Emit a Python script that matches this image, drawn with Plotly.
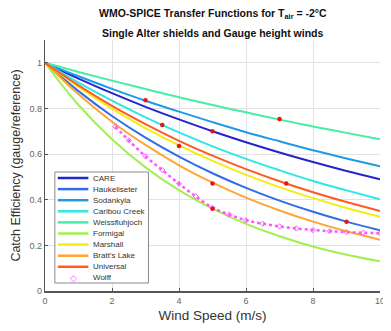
import plotly.graph_objects as go

# ---------------- data ----------------
wind = [0, 1, 2, 3, 4, 5, 6, 7, 8, 9, 10]
care = [1.0, 0.931, 0.867, 0.807, 0.752, 0.700, 0.652, 0.607, 0.565, 0.526, 0.490]
haukeliseter = [1.0, 0.876, 0.767, 0.672, 0.589, 0.516, 0.452, 0.396, 0.347, 0.304, 0.266]
sodankyla = [1.0, 0.941, 0.886, 0.834, 0.786, 0.740, 0.696, 0.656, 0.617, 0.581, 0.547]
caribou_creek = [1.0, 0.913, 0.834, 0.761, 0.695, 0.634, 0.579, 0.529, 0.482, 0.441, 0.402]
weissfluhjoch = [1.0, 0.960, 0.922, 0.885, 0.849, 0.815, 0.783, 0.751, 0.721, 0.693, 0.665]
formigal = [1.0, 0.815, 0.665, 0.542, 0.442, 0.361, 0.294, 0.240, 0.195, 0.159, 0.130]
marshall = [1.0, 0.894, 0.799, 0.714, 0.638, 0.570, 0.509, 0.455, 0.407, 0.364, 0.325]
bratts_lake = [1.0, 0.862, 0.742, 0.640, 0.551, 0.475, 0.409, 0.353, 0.304, 0.262, 0.225]
universal = [1.0, 0.901, 0.811, 0.731, 0.658, 0.593, 0.534, 0.481, 0.433, 0.390, 0.351]

wolff_wind = [2.1, 2.5, 3.0, 3.5, 4.0, 4.5, 5.0, 5.5, 6.0, 6.5, 7.0, 7.5, 8.0, 8.5, 9.0, 9.5, 10.0]
wolff = [0.72, 0.66, 0.59, 0.53, 0.47, 0.415, 0.365, 0.335, 0.31, 0.295, 0.283,
         0.274, 0.267, 0.262, 0.258, 0.255, 0.253]

obs_wind = [3.0, 3.5, 4.0, 5.0, 5.0, 5.0, 7.0, 7.2, 9.0]
obs_ce = [0.836, 0.728, 0.635, 0.70, 0.471, 0.36, 0.754, 0.471, 0.303]

names = ["CARE", "Haukeliseter", "Sodankyla", "Caribou Creek", "Weissfluhjoch",
         "Formigal", "Marshall", "Bratt's Lake", "Universal"]
values = [care, haukeliseter, sodankyla, caribou_creek, weissfluhjoch,
          formigal, marshall, bratts_lake, universal]
colors = ["#2424cc", "#2f6ee6", "#1f9ae6", "#2ee6e6", "#45eda5",
          "#a2ef52", "#f4ee10", "#ffa533", "#ff5a22"]
wolff_color = "#ff55ff"

fig = go.Figure()
for name, vals, col in zip(names, values, colors):
    fig.add_trace(go.Scatter(x=wind, y=vals, name=name, mode="lines",
                             line=dict(color=col, width=2, shape="spline"),
                             showlegend=False))
fig.add_trace(go.Scatter(x=wolff_wind, y=wolff, name="Wolff", mode="lines+markers",
                         line=dict(color=wolff_color, width=2.5, dash="dot", shape="spline"),
                         marker=dict(symbol="diamond-open", size=4, color=wolff_color),
                         showlegend=False))
fig.add_trace(go.Scatter(x=obs_wind, y=obs_ce, mode="markers", name="obs",
                         marker=dict(color="#ee1111", size=4.5), showlegend=False))

# ---------------- geometry (page has an 8px body margin) ----------------
OFF = 8
FW, FH = 391 - OFF, 331 - OFF
L, R, T, B = 45 - OFF, 385 - OFF, 40 - OFF, 291 - OFF
W, H = R - L, B - T
def px(xp):
    return (xp - OFF - L) / W
def py(yp):
    return (B - (yp - OFF)) / H

shapes = [dict(type="rect", xref="paper", yref="paper",
               x0=px(55), x1=px(150), y0=py(283), y1=py(172),
               line=dict(color="#8a8a8a", width=1), fillcolor="white", layer="above")]
annotations = []
legend_names = names + ["Wolff"]
for i, nm in enumerate(legend_names):
    yy = 178 + i * 11.1
    if nm != "Wolff":
        shapes.append(dict(type="line", xref="paper", yref="paper",
                           x0=px(58), x1=px(89), y0=py(yy), y1=py(yy),
                           line=dict(color=colors[i], width=2.5), layer="above"))
    else:
        annotations.append(dict(x=px(73.5), y=py(yy), xref="paper", yref="paper",
                                text="◇", showarrow=False, xanchor="center", yanchor="middle",
                                font=dict(size=9, color=wolff_color)))
    annotations.append(dict(x=px(92), y=py(yy), xref="paper", yref="paper", text=nm,
                            showarrow=False, xanchor="left", yanchor="middle",
                            font=dict(size=8, color="#333333", family="Liberation Sans, Arial")))

annotations.append(dict(x=px(215), y=py(14), xref="paper", yref="paper",
                        text="<b>WMO-SPICE Transfer Functions for T<sub>air</sub> = -2°C</b>",
                        showarrow=False, xanchor="center", yanchor="middle",
                        font=dict(size=10.5, color="#111111", family="Liberation Sans, Arial")))
annotations.append(dict(x=px(215), y=py(33), xref="paper", yref="paper",
                        text="<b>Single Alter shields and Gauge height winds</b>",
                        showarrow=False, xanchor="center", yanchor="middle",
                        font=dict(size=10.5, color="#111111", family="Liberation Sans, Arial")))

fig.update_layout(
    width=FW, height=FH,
    margin=dict(l=L, r=FW - R, t=T, b=FH - B),
    paper_bgcolor="white", plot_bgcolor="white",
    font=dict(family="Liberation Sans, Arial", color="#555555"),
    shapes=shapes, annotations=annotations,
    showlegend=False,
)
fig.update_xaxes(range=[0, 10], dtick=2, tick0=0, showgrid=True,
                 gridcolor="#e2e2e2", gridwidth=1, ticklabeloverflow="allow",
                 showline=True, linecolor="#555555", linewidth=1.5, ticks="inside", ticklen=3,
                 tickcolor="#555555", zeroline=False, tickfont=dict(size=9, color="#666666"),
                 title=dict(text="Wind Speed (m/s)", font=dict(size=13.5, color="#333333"), standoff=6))
fig.update_yaxes(range=[0, 1.1], tickvals=[0, 0.2, 0.4, 0.6, 0.8, 1.0], showgrid=True,
                 gridcolor="#e2e2e2", gridwidth=1, showline=True, linecolor="#555555",
                 linewidth=1.2, ticks="inside", ticklen=3, tickcolor="#555555", zeroline=False,
                 tickfont=dict(size=9, color="#666666"),
                 title=dict(text="Catch Efficiency (gauge/reference)",
                            font=dict(size=12.5, color="#333333"), standoff=6))

fig.write_html("out.html")
